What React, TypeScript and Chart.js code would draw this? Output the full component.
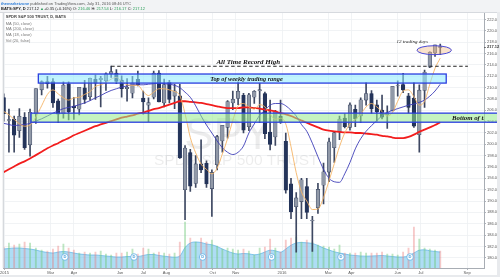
import React, { useEffect, useRef } from 'react';
import { Chart, registerables } from 'chart.js';
Chart.register(...registerables);

// ---- DATA (weekly) ----
const weeks = [
  '2014-12-31','2015-01-07','2015-01-14','2015-01-21','2015-01-28','2015-02-04','2015-02-11','2015-02-18','2015-02-25',
  '2015-03-04','2015-03-11','2015-03-18','2015-03-25','2015-04-01','2015-04-08','2015-04-15','2015-04-22','2015-04-29',
  '2015-05-06','2015-05-13','2015-05-20','2015-05-27','2015-06-03','2015-06-10','2015-06-17','2015-06-24',
  '2015-07-01','2015-07-08','2015-07-15','2015-07-22','2015-07-29','2015-08-05','2015-08-12','2015-08-19','2015-08-26',
  '2015-09-02','2015-09-09','2015-09-16','2015-09-23','2015-09-30','2015-10-07','2015-10-14','2015-10-21','2015-10-28',
  '2015-11-04','2015-11-11','2015-11-18','2015-11-25','2015-12-02','2015-12-09','2015-12-16','2015-12-23','2015-12-30',
  '2016-01-06','2016-01-13','2016-01-20','2016-01-27','2016-02-03','2016-02-10','2016-02-17','2016-02-24',
  '2016-03-02','2016-03-09','2016-03-16','2016-03-23','2016-03-30','2016-04-06','2016-04-13','2016-04-20','2016-04-27',
  '2016-05-04','2016-05-11','2016-05-18','2016-05-25','2016-06-01','2016-06-08','2016-06-15','2016-06-22','2016-06-29',
  '2016-07-06','2016-07-13','2016-07-20','2016-07-27'
];
const opens = [
  208.2,204.2,204.4,202.4,204.7,199.9,205.4,209.6,211.0,
  211.0,207.6,205.4,210.6,206.7,206.2,209.9,208.4,211.4,
  211.4,211.2,212.4,212.5,211.3,209.8,209.0,211.4,
  208.1,206.9,208.3,212.5,207.3,210.9,208.5,208.5,192.0,
  198.5,193.1,196.5,196.6,192.2,196.4,200.6,203.0,207.3,
  208.1,208.6,203.1,208.3,209.4,208.9,202.1,201.3,204.9,
  200.5,193.0,189.0,189.9,192.5,186.5,188.8,192.8,
  195.1,199.4,202.2,204.6,203.0,206.1,205.0,207.8,208.9,
  206.9,206.0,205.2,205.9,210.3,210.5,208.5,208.1,201.7,
  209.5,213.6,216.1,217.2
];
const highs = [
  208.9,206.2,205.0,206.3,205.6,206.2,209.8,211.2,212.0,
  211.6,208.0,211.0,211.0,208.3,210.0,211.3,211.7,212.2,
  212.0,212.6,213.8,213.2,212.1,211.6,212.0,212.9,
  209.4,208.2,212.9,213.0,211.5,211.3,210.6,210.6,199.8,
  199.1,198.0,200.8,197.1,195.5,201.6,203.3,207.7,209.4,
  211.0,209.0,209.0,209.5,210.8,209.2,207.8,206.0,207.8,
  202.0,194.0,191.5,194.0,194.0,187.3,193.1,196.7,
  201.1,202.3,205.0,205.4,207.3,206.9,208.2,210.9,209.5,
  207.8,208.7,206.8,210.2,211.2,212.5,209.0,210.9,210.5,
  213.1,216.3,217.5,217.7
];
const lows = [
  204.1,198.6,198.6,201.2,199.1,197.9,203.7,208.7,209.9,
  206.5,203.8,204.6,204.3,204.4,205.2,207.2,207.8,207.9,
  206.6,209.5,211.8,210.7,208.3,207.6,208.2,210.3,
  205.3,204.0,208.0,207.5,206.6,207.3,206.3,197.5,186.7,
  191.7,192.4,195.0,192.4,187.3,195.5,198.6,201.1,206.1,
  207.0,202.0,202.4,207.2,203.8,201.0,199.0,199.8,203.7,
  191.4,186.9,181.0,186.9,186.9,181.1,187.8,189.5,
  193.4,196.8,200.8,202.9,202.5,203.1,203.8,206.9,205.4,
  204.1,204.5,202.8,205.9,208.5,209.1,205.5,203.0,198.6,
  206.5,213.5,215.5,215.8
];
const closes = [
  205.4,204.3,201.6,204.9,199.4,205.6,209.8,211.0,210.7,
  207.3,205.3,210.4,205.7,206.4,210.0,207.9,211.6,210.8,
  211.6,212.4,212.8,211.1,209.8,210.0,210.8,210.5,
  207.5,207.3,212.5,207.5,210.5,207.9,209.4,197.6,199.3,
  192.6,196.5,195.5,193.0,195.0,201.3,203.3,207.5,207.9,
  209.3,202.5,208.7,209.3,209.6,201.9,200.0,205.7,203.9,
  191.9,188.1,190.5,193.7,188.0,186.6,192.0,195.1,
  200.4,202.0,204.4,203.1,206.9,204.5,207.8,208.9,206.3,
  205.7,204.8,205.5,210.2,210.3,209.6,206.5,203.2,209.5,
  212.7,216.2,217.5,217.1
];
const ma18 = [
  205.8,205.2,204.4,203.6,203.2,203.4,204.8,206.8,208.8,
  209.6,208.9,208.2,207.8,208.2,208.3,208.8,209.3,210.2,
  210.5,210.9,211.5,211.8,211.1,210.5,210.4,210.4,
  209.3,208.6,209.2,209.8,209.8,209.6,209.3,208.6,205.4,
  201.2,198.5,196.5,195.6,194.8,195.8,198.3,201.0,204.2,
  206.8,207.2,206.6,206.2,207.0,206.6,205.3,204.4,204.6,
  203.6,199.6,195.0,191.6,190.0,188.5,188.6,190.6,
  193.6,196.6,199.6,202.0,203.6,204.4,205.3,206.6,207.2,
  206.6,205.8,205.0,205.6,207.6,209.4,209.6,208.4,206.9,
  207.6,210.6,213.4,215.2
];
const ma50 = [
  203.7,203.5,203.3,203.4,203.5,203.7,204.1,204.5,205.0,
  205.5,205.9,206.3,206.5,206.7,207.0,207.3,207.7,208.2,
  208.6,209.1,209.5,209.8,210.1,210.3,210.5,210.5,
  210.5,210.6,210.7,210.8,210.7,210.6,210.4,210.0,209.2,
  208.3,206.8,205.0,203.4,202.0,200.6,199.4,198.6,198.2,
  198.6,199.7,202.0,203.6,205.1,206.0,206.9,207.2,207.2,
  206.8,206.0,205.0,203.5,202.3,200.2,197.8,195.6,
  194.0,193.4,193.3,194.8,196.8,199.2,201.0,202.3,203.3,
  204.2,205.0,205.6,206.0,206.3,206.6,206.9,207.1,207.4,
  207.8,208.5,209.4,210.6
];
const ma200 = [
  195.1,195.6,196.1,196.6,197.0,197.5,198.1,198.7,199.3,
  199.8,200.2,200.7,201.1,201.6,202.0,202.4,202.8,203.2,
  203.5,203.8,204.1,204.4,204.7,204.9,205.1,205.4,
  205.6,205.9,206.2,206.4,206.7,207.0,207.3,207.6,207.6,
  207.5,207.4,207.3,207.1,206.9,206.7,206.5,206.4,206.4,
  206.4,206.5,206.5,206.4,206.3,206.1,206.0,205.8,205.5,
  205.3,205.0,204.6,204.2,203.8,203.4,203.0,202.6,
  202.4,202.3,202.2,202.1,202.1,202.0,202.0,201.9,201.8,
  201.7,201.5,201.4,201.2,201.1,201.1,201.3,201.7,202.2,
  202.6,203.0,203.4,203.9
];
const volumeMA = [
  190,195,200,200,195,190,180,165,155,
  150,160,165,160,150,140,135,130,130,
  125,120,115,110,110,115,115,115,
  125,135,135,125,118,112,108,120,205,
  250,260,255,240,232,215,190,168,150,
  140,145,142,132,140,160,178,172,158,
  190,228,250,255,252,245,225,200,
  180,162,150,140,130,125,120,118,120,
  122,125,120,115,110,110,122,150,178,
  182,172,165,160
];
const volumePeak = [
  210,250,230,240,260,250,200,180,170,
  190,220,240,200,180,150,160,150,160,
  170,140,130,150,150,160,190,140,
  200,190,150,160,150,140,150,260,460,
  300,260,300,260,280,220,190,200,190,
  180,190,170,130,200,210,290,200,160,
  280,300,310,260,280,260,230,220,
  210,190,230,150,150,150,160,150,150,
  150,160,140,140,130,160,200,410,290,
  200,190,180,170
];
const dividendDates = ['2015-03-20','2015-06-19','2015-09-18','2015-12-18','2016-03-18','2016-06-17'];
const xTickMonths = [0, 2, 3, 5, 6, 7, 9, 10, 12, 14, 15, 17, 18, 20];
const xTickLabels = ['2015','Mar','Apr','Jun','Jul','Aug','Oct','Nov','2016','Mar','Apr','Jun','Jul','Sep'];
const lastPrice = 217.12;
const athPrice = 213.78;
const athSpan = ['2015-05-20', '2016-09-02'];
const topRange = { from: '2015-02-14', to: '2016-08-04', low: 210.8, high: 212.4 };
const bottomRange = { from: '2015-02-05', to: '2017-03-01', low: 203.9, high: 205.5 };
const ellipseSpan = { from: '2016-06-26', to: '2016-08-11', low: 215.9, high: 217.3 };

function toMonth(d: string): number {
  const [y, m, day] = d.split('-').map(Number);
  const dim = new Date(y, m, 0).getDate();
  return (y - 2015) * 12 + (m - 1) + (day - 1) / dim;
}

const SANS = '"Liberation Sans", Arial, sans-serif';
const SERIF = '"Liberation Serif", "Times New Roman", serif';

function drawSegs(ctx: CanvasRenderingContext2D, x: number, y: number, segs: [string, string, boolean?][], size: number) {
  let cx = x;
  for (const [t, c, b] of segs) {
    ctx.font = `${b ? 'bold ' : ''}${size}px ${SANS}`;
    ctx.fillStyle = c;
    ctx.fillText(t, cx, y);
    cx += ctx.measureText(t).width;
  }
}

const overlayPlugin = {
  id: 'overlay',
  beforeDraw(chart: any) {
    const { ctx, width, height } = chart;
    ctx.save();
    ctx.fillStyle = '#ffffff';
    ctx.fillRect(0, 0, width, height);
    ctx.restore();
  },
  beforeDatasetsDraw(chart: any) {
    const { ctx, chartArea: a } = chart;
    ctx.save();
    ctx.beginPath();
    ctx.rect(a.left, a.top, a.right - a.left, a.bottom - a.top);
    ctx.clip();
    ctx.fillStyle = 'rgba(0,0,0,0.075)';
    ctx.textAlign = 'center';
    ctx.textBaseline = 'alphabetic';
    const cx = a.left + (a.right - a.left) * 0.48;
    ctx.font = `44px ${SANS}`;
    ctx.fillText('SPY', cx - 6, a.top + (a.bottom - a.top) * 0.535);
    ctx.font = `15.5px ${SANS}`;
    ctx.fillText('SPDR S&P 500 TRUST', cx + 2, a.top + (a.bottom - a.top) * 0.595);
    ctx.restore();
  },
  afterDatasetsDraw(chart: any) {
    const { ctx, chartArea: a } = chart;
    const xs = chart.scales.x;
    const ys = chart.scales.y;
    const X = (d: string) => xs.getPixelForValue(toMonth(d));
    ctx.save();
    ctx.beginPath();
    ctx.rect(a.left, a.top, chart.width - a.left, a.bottom - a.top);
    ctx.clip();

    // bottom of trading range
    {
      const x0 = X(bottomRange.from), x1 = X(bottomRange.to);
      const y0 = ys.getPixelForValue(bottomRange.high), y1 = ys.getPixelForValue(bottomRange.low);
      ctx.fillStyle = 'rgba(150,235,140,0.55)';
      ctx.fillRect(x0, y0, x1 - x0, y1 - y0);
      ctx.strokeStyle = '#2b3fe0';
      ctx.lineWidth = 1.3;
      ctx.strokeRect(x0, y0, x1 - x0, y1 - y0);
      ctx.save();
      ctx.beginPath();
      ctx.rect(a.left, a.top, a.right - a.left, a.bottom - a.top);
      ctx.clip();
      ctx.fillStyle = '#111';
      ctx.font = `italic bold 6.8px ${SERIF}`;
      ctx.textAlign = 'left';
      ctx.textBaseline = 'middle';
      ctx.fillText('Bottom of trading range', xs.getPixelForValue(19.35), (y0 + y1) / 2 + 0.5);
      ctx.restore();
    }
    // top of weekly trading range
    {
      const x0 = X(topRange.from), x1 = X(topRange.to);
      const y0 = ys.getPixelForValue(topRange.high), y1 = ys.getPixelForValue(topRange.low);
      ctx.fillStyle = 'rgba(140,235,255,0.55)';
      ctx.fillRect(x0, y0, x1 - x0, y1 - y0);
      ctx.strokeStyle = '#2b3fe0';
      ctx.lineWidth = 1.3;
      ctx.strokeRect(x0, y0, x1 - x0, y1 - y0);
      ctx.fillStyle = '#111';
      ctx.font = `italic bold 6.3px ${SERIF}`;
      ctx.textAlign = 'center';
      ctx.textBaseline = 'middle';
      ctx.fillText('Top of weekly trading range', xs.getPixelForValue(10.46), (y0 + y1) / 2 + 0.5);
    }
    // ATH dashed line
    {
      const y = ys.getPixelForValue(athPrice);
      ctx.strokeStyle = '#222';
      ctx.lineWidth = 1.1;
      ctx.setLineDash([3.5, 2.5]);
      ctx.beginPath();
      ctx.moveTo(X(athSpan[0]), y);
      ctx.lineTo(X(athSpan[1]), y);
      ctx.stroke();
      ctx.setLineDash([]);
      ctx.fillStyle = '#111';
      ctx.font = `italic bold 7px ${SERIF}`;
      ctx.textAlign = 'center';
      ctx.textBaseline = 'alphabetic';
      ctx.fillText('All Time Record High', xs.getPixelForValue(10.54), y - 2.5);
    }
    // ellipse around the last 12 trading days
    {
      const x0 = X(ellipseSpan.from), x1 = X(ellipseSpan.to);
      const y0 = ys.getPixelForValue(ellipseSpan.high), y1 = ys.getPixelForValue(ellipseSpan.low);
      ctx.beginPath();
      ctx.ellipse((x0 + x1) / 2, (y0 + y1) / 2, (x1 - x0) / 2, (y1 - y0) / 2 + 0.5, 0, 0, Math.PI * 2);
      ctx.fillStyle = 'rgba(245,190,140,0.45)';
      ctx.fill();
      ctx.strokeStyle = '#4a4ad8';
      ctx.lineWidth = 1;
      ctx.stroke();
      ctx.fillStyle = '#222';
      ctx.font = `italic 5px ${SERIF}`;
      ctx.textAlign = 'center';
      ctx.textBaseline = 'alphabetic';
      ctx.fillText('12 trading days', (x0 + x1) / 2 - 22, y0 - 3);
    }
    ctx.restore();

    // dividend markers
    ctx.save();
    const dy = a.bottom - 11;
    for (const d of dividendDates) {
      const x = X(d);
      ctx.beginPath();
      ctx.arc(x, dy, 3.3, 0, Math.PI * 2);
      ctx.fillStyle = '#ffffff';
      ctx.fill();
      ctx.strokeStyle = '#5fb0e6';
      ctx.lineWidth = 0.8;
      ctx.stroke();
      ctx.fillStyle = '#4a9fd8';
      ctx.font = `bold 4px ${SANS}`;
      ctx.textAlign = 'center';
      ctx.textBaseline = 'middle';
      ctx.fillText('D', x, dy + 0.3);
    }
    ctx.restore();
  },
  afterDraw(chart: any) {
    const { ctx, chartArea: a, width, height } = chart;
    const ys = chart.scales.y;
    ctx.save();
    // frame
    ctx.fillStyle = '#f2f3f5';
    ctx.fillRect(0, 0, width, 12);
    ctx.fillStyle = '#d6d9de';
    ctx.fillRect(0, 12, width, 1);
    ctx.fillStyle = '#e8eaed';
    ctx.fillRect(width - 3, 12, 3, height - 12);
    ctx.fillRect(0, height - 2, width, 2);
    ctx.fillStyle = '#c9cdd3';
    ctx.fillRect(a.left - 1, a.top, 1, a.bottom - a.top);

    // header
    ctx.textAlign = 'left';
    ctx.textBaseline = 'middle';
    drawSegs(ctx, 1, 3.5, [
      ['themarketzone', '#2f7ed8', true],
      [' published on TradingView.com, July 31, 2016 08:46 UTC', '#555']
    ], 4);
    drawSegs(ctx, 1, 9, [
      ['BATS:SPY, D ', '#222', true],
      ['217.12 ', '#222'],
      ['\u25B2', '#2ca05a'],
      ['+0.35 (+0.16%) O: ', '#222'],
      ['216.46', '#2ca05a'],
      [' H: ', '#222'],
      ['217.54', '#2ca05a'],
      [' L: ', '#222'],
      ['216.17', '#2ca05a'],
      [' C: ', '#222'],
      ['217.12', '#2ca05a']
    ], 4);

    // legend
    const lx = a.left + 2;
    drawSegs(ctx, lx, 17, [['SPDR S&P 500 TRUST, D, BATS', '#444', true]], 4);
    const lines = ['MA (50, close)', 'MA (200, close)', 'MA (18, close)', 'Vol (20, false)'];
    lines.forEach((t, i) => drawSegs(ctx, lx, 23.5 + i * 5.8, [[t, '#777']], 4));

    // last price label
    const ly = ys.getPixelForValue(lastPrice);
    ctx.font = `bold 4px ${SANS}`;
    ctx.fillStyle = '#333';
    ctx.textBaseline = 'middle';
    ctx.fillText(lastPrice.toFixed(2), a.right + 3, ly);
    ctx.fillRect(a.right, ly, 2, 0.6);
    ctx.restore();
  }
};

export default function App() {
  const ref = useRef<HTMLCanvasElement | null>(null);
  useEffect(() => {
    document.body.style.margin = '0';
    const xsVals = weeks.map(toMonth);
    const up = closes.map((c, i) => c >= opens[i]);
    const chart = new Chart(ref.current as HTMLCanvasElement, {
      type: 'bar',
      data: {
        datasets: [
          {
            type: 'line',
            label: 'MA18',
            data: xsVals.map((x, i) => ({ x, y: ma18[i] })),
            borderColor: '#f5b466',
            borderWidth: 0.9,
            pointRadius: 0,
            cubicInterpolationMode: 'monotone',
            yAxisID: 'y',
            order: 1
          } as any,
          {
            type: 'line',
            label: 'MA50',
            data: xsVals.map((x, i) => ({ x, y: ma50[i] })),
            borderColor: '#3d3db8',
            borderWidth: 0.9,
            pointRadius: 0,
            cubicInterpolationMode: 'monotone',
            yAxisID: 'y',
            order: 2
          },
          {
            type: 'line',
            label: 'MA200',
            data: xsVals.map((x, i) => ({ x, y: ma200[i] })),
            borderColor: '#f21d1d',
            borderWidth: 1.8,
            pointRadius: 0,
            cubicInterpolationMode: 'monotone',
            yAxisID: 'y',
            order: 3
          },
          {
            type: 'bar',
            label: 'bodies',
            data: xsVals.map((x, i) => ({ x, y: [Math.min(opens[i], closes[i]), Math.max(opens[i], closes[i]) + 0.05] })),
            backgroundColor: up.map(u => (u ? '#9199a8' : '#24345a')),
            borderColor: up.map(u => (u ? '#3e4a64' : '#24345a')),
            borderWidth: 0.6,
            borderSkipped: false,
            barThickness: 3.6,
            grouped: false,
            yAxisID: 'y',
            order: 8
          } as any,
          {
            type: 'bar',
            label: 'wicks',
            data: xsVals.map((x, i) => ({ x, y: [lows[i], highs[i]] })),
            backgroundColor: '#3e4862',
            barThickness: 1,
            grouped: false,
            yAxisID: 'y',
            order: 9
          } as any,
          {
            type: 'bar',
            label: 'volume',
            data: xsVals.map((x, i) => ({ x, y: volumePeak[i] })),
            backgroundColor: up.map(u => (u ? 'rgba(110,200,120,0.45)' : 'rgba(235,120,120,0.4)')),
            barThickness: 1.2,
            grouped: false,
            yAxisID: 'yv',
            order: 18
          } as any,
          {
            type: 'line',
            label: 'volMA',
            data: xsVals.map((x, i) => ({ x, y: volumeMA[i] })),
            borderColor: 'rgba(95,180,230,0.9)',
            borderWidth: 0.8,
            backgroundColor: 'rgba(120,198,238,0.6)',
            fill: 'origin',
            pointRadius: 0,
            cubicInterpolationMode: 'monotone',
            yAxisID: 'yv',
            order: 20
          } as any
        ]
      },
      options: {
        animation: false,
        responsive: false,
        devicePixelRatio: 1,
        events: [],
        layout: { padding: { top: 13, left: 3, right: 0, bottom: 0 } },
        plugins: { legend: { display: false }, tooltip: { enabled: false } },
        scales: {
          x: {
            type: 'linear',
            offset: false,
            min: -0.03,
            max: 20.73,
            afterBuildTicks: (s: any) => { s.ticks = xTickMonths.map(v => ({ value: v })); },
            afterFit: (s: any) => { s.height = 9; },
            ticks: {
              autoSkip: false,
              maxRotation: 0,
              padding: 0,
              font: { size: 4, family: SANS },
              color: '#555',
              callback: (v: any) => {
                const i = xTickMonths.indexOf(Number(v));
                return i >= 0 ? xTickLabels[i] : '';
              }
            },
            grid: { color: '#eef0f3', lineWidth: 0.8, offset: false, tickLength: 2, tickColor: '#9aa0a8' },
            border: { color: '#a8adb4' }
          },
          y: {
            type: 'linear',
            position: 'right',
            min: 178.19,
            max: 223.16,
            afterFit: (s: any) => { s.width = 16; },
            ticks: {
              stepSize: 2,
              includeBounds: false,
              padding: 1,
              font: { size: 4, family: SANS },
              color: '#555',
              callback: (v: any) => Number(v).toFixed(2)
            },
            grid: { color: '#eef0f3', lineWidth: 0.8, tickLength: 2, tickColor: '#9aa0a8' },
            border: { color: '#a8adb4' }
          },
          yv: {
            type: 'linear',
            display: false,
            min: 0,
            max: 2550
          }
        }
      } as any,
      plugins: [overlayPlugin]
    });
    return () => chart.destroy();
  }, []);
  return (
    <div style={{ width: 500, height: 277, position: 'relative' }}>
      <canvas ref={ref} width={500} height={277} style={{ display: 'block', width: 500, height: 277 }} />
    </div>
  );
}
